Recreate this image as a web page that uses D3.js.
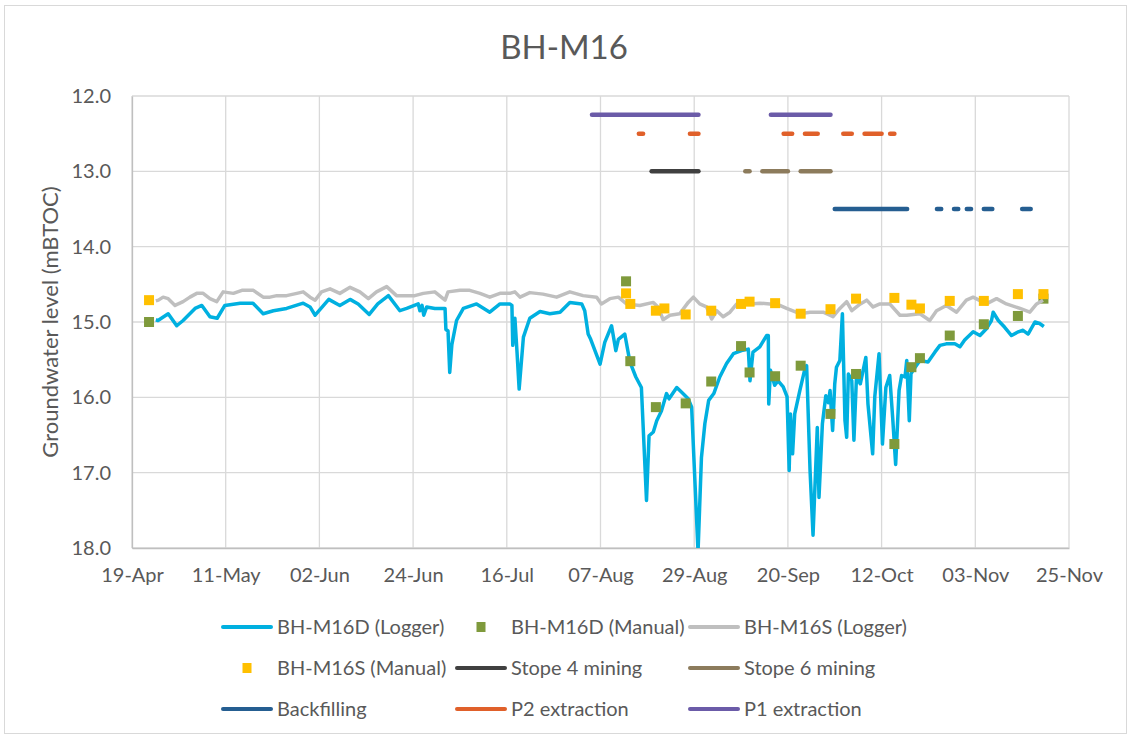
<!DOCTYPE html>
<html lang="en">
<head>
<meta charset="UTF-8" />
<title>BH-M16</title>
<script src="https://d3js.org/d3.v7.min.js"></script>
<style>
  body { margin: 0; background: #fff; }
  text { font-family: Lato, "Open Sans", sans-serif; fill: #595959; }
</style>
</head>
<body>
<svg id="chart" width="1131" height="738"></svg>
<script>
// logger readings: days after 19-Apr, level in mBTOC
const deepDay = [5.6, 6.1, 8.5, 10.5, 12.0, 14.8, 16.4, 18.3, 20.0, 21.8, 25.4, 28.4, 30.8, 33.2, 36.3, 40.2, 41.8, 43.0, 46.2,
  48.8, 51.2, 53.1, 55.7, 57.7, 60.2, 62.9, 64.5, 67.2, 67.6, 68.1, 68.5, 69.2, 71.1, 73.5, 73.7, 74.2, 74.6, 75.1, 76.2,
  77.8, 80.9, 84.0, 86.4, 88.7, 89.2, 89.4, 89.9, 90.4, 90.9, 91.9, 93.4, 95.8, 98.1, 100.5, 102.8, 105.6, 106.3, 107.1,
  107.7, 108.7, 109.9, 111.0, 112.6, 113.6, 114.2, 115.7, 116.9, 118.3, 119.6, 120.8, 121.4, 122.4, 123.2, 124.3, 125.5,
  126.1, 127.9, 129.0, 130.6, 131.4, 132.9, 133.7, 134.5, 135.4, 136.6, 138.0, 139.6, 141.2, 143.1, 144.7, 145.1, 145.8,
  147.4, 149.0, 149.4, 149.5, 149.9, 150.9, 151.7, 152.9, 153.8, 154.3, 154.6, 155.1, 155.6, 156.8, 158.0, 158.4, 159.2,
  159.9, 160.9, 161.3, 162.1, 162.9, 163.5, 163.9, 164.5, 165.0, 165.4, 166.2, 166.8, 167.4, 167.8, 168.2, 169.0, 169.5,
  170.1, 171.0, 172.3, 172.8, 173.9, 174.4, 175.4, 176.2, 177.0, 177.9, 178.6, 179.3, 180.1, 180.7, 181.5, 181.9, 182.5,
  182.9, 183.4, 185.0, 186.9, 188.5, 189.7, 191.2, 193.2, 194.4, 195.5, 197.5, 199.1, 200.6, 201.8, 202.2, 203.4, 204.9,
  206.5, 208.1, 209.2, 210.4, 212.0, 213.1, 214.1];
const deepLevel = [14.97, 14.98, 14.89, 15.05, 14.98, 14.82, 14.78, 14.93, 14.95, 14.78, 14.75, 14.75, 14.89, 14.85, 14.82, 14.75, 14.80, 14.91, 14.70,
  14.78, 14.70, 14.76, 14.90, 14.76, 14.65, 14.85, 14.82, 14.76, 14.85, 14.78, 14.91, 14.80, 14.82, 14.82, 15.10, 15.12, 15.67, 15.30, 14.98,
  14.82, 14.76, 14.87, 14.76, 14.76, 14.78, 15.31, 14.95, 15.40, 15.89, 15.20, 14.95, 14.86, 14.89, 14.87, 14.74, 14.76, 14.85, 15.16,
  15.23, 15.38, 15.56, 15.27, 15.05, 15.38, 15.23, 15.16, 15.53, 15.73, 15.87, 17.37, 16.51, 16.46, 16.31, 16.18, 15.95,
  16.02, 15.87, 15.93, 16.02, 16.13, 18.05, 16.80, 16.35, 16.04, 15.95, 15.73, 15.55, 15.42, 15.38, 15.36, 15.78, 15.40,
  15.33, 15.18, 15.18, 16.09, 15.64, 15.84, 15.78, 15.86, 15.99, 16.97, 16.22, 16.75, 16.22, 15.91, 15.62, 15.58, 16.97,
  17.83, 16.40, 17.33, 16.35, 15.98, 16.07, 15.91, 16.44, 15.82, 15.60, 15.51, 14.89, 16.31, 16.53, 15.69, 15.78, 16.57,
  15.73, 15.82, 15.47, 16.09, 16.75, 15.99, 15.42, 16.62, 15.87, 15.71, 16.27, 16.89, 15.91, 15.71, 15.73, 15.51, 16.31,
  15.69, 15.64, 15.51, 15.53, 15.40, 15.31, 15.29, 15.29, 15.33, 15.24, 15.13, 15.18, 15.09, 14.98, 14.87, 14.98, 15.07,
  15.18, 15.13, 15.11, 15.16, 15.00, 15.02, 15.06];

const shallowDay = [5.6, 6.2, 7.3, 8.5, 10.1, 12.0, 13.6, 15.2, 16.7, 18.3, 19.9, 21.4, 23.8, 25.8, 28.5, 30.8, 32.4, 34.0, 36.3,
  38.7, 40.2, 41.8, 43.0, 44.5, 46.5, 48.8, 51.2, 53.5, 55.5, 57.4, 59.8, 62.1, 64.1, 66.4, 68.4, 71.1, 73.5, 74.2, 77.0,
  79.3, 81.7, 84.0, 86.4, 88.7, 89.9, 91.1, 93.4, 96.5, 99.7, 102.8, 105.9, 109.1, 110.2, 112.2, 114.2, 116.1, 119.2, 122.4,
  123.5, 124.7, 126.3, 128.6, 130.6, 131.8, 133.3, 134.9, 136.1, 137.3, 138.8, 140.4, 142.0, 145.1, 147.4, 149.8, 152.1,
  153.7, 156.8, 159.2, 162.3, 164.6, 166.2, 167.8, 169.0, 171.0, 172.5, 174.0, 175.6, 177.9, 180.3, 181.9, 185.0, 187.3,
  188.9, 191.2, 193.6, 195.9, 197.5, 200.6, 203.0, 205.3, 208.5, 210.8, 212.4, 213.9];
const shallowLevel = [14.72, 14.71, 14.67, 14.69, 14.78, 14.73, 14.67, 14.62, 14.62, 14.69, 14.73, 14.60, 14.62, 14.58, 14.58, 14.67, 14.67, 14.65, 14.65,
  14.62, 14.60, 14.67, 14.71, 14.60, 14.56, 14.62, 14.54, 14.60, 14.69, 14.60, 14.53, 14.65, 14.65, 14.65, 14.62, 14.60, 14.71, 14.60, 14.58,
  14.58, 14.62, 14.67, 14.62, 14.62, 14.60, 14.67, 14.61, 14.63, 14.67, 14.60, 14.65, 14.67, 14.76, 14.69, 14.67, 14.76, 14.78, 14.74,
  14.80, 14.97, 14.91, 14.89, 14.74, 14.67, 14.76, 14.80, 14.96, 14.85, 14.93, 14.87, 14.76, 14.76, 14.75, 14.76, 14.78,
  14.82, 14.89, 14.87, 14.87, 14.93, 14.82, 14.73, 14.85, 14.76, 14.71, 14.80, 14.76, 14.76, 14.91, 14.91, 14.89, 14.98,
  14.85, 14.78, 14.87, 14.71, 14.67, 14.76, 14.69, 14.76, 14.82, 14.87, 14.76, 14.71];

// manual dips
const manualDates = ["04-23", "08-13", "08-14", "08-20", "08-22", "08-27", "09-02", "09-09", "09-11", "09-17", "09-23",
  "09-30", "10-06", "10-15", "10-19", "10-21", "10-28", "11-05", "11-13", "11-19"];
const deepManual = [15.00, 14.46, 15.52, 16.13, null, 16.08, 15.79, 15.32, 15.67, 15.72, 15.58,
  16.22, 15.69, 16.62, 15.60, 15.48, 15.18, 15.03, 14.92, 14.69];
const shallowManual = [14.71, 14.62, 14.76, 14.85, 14.82, 14.90, 14.85, 14.76, 14.73, 14.75, 14.89,
  14.83, 14.69, 14.68, 14.77, 14.82, 14.72, 14.72, 14.63, 14.63];

// activity periods [from, to], drawn at a fixed level
const stope4 = [["08-19", "08-30"]];
const stope6 = [["09-10", "09-11"], ["09-14", "09-20"], ["09-23", "09-30"]];
const backfilling = [["10-01", "10-18"], ["10-25", "10-26"], ["10-29", "10-30"], ["11-01", "11-02"], ["11-05", "11-07"], ["11-14", "11-16"]];
const p2 = [["08-16", "08-17"], ["08-28", "08-30"], ["09-19", "09-21"], ["09-24", "09-27"], ["10-03", "10-05"], ["10-08", "10-12"], ["10-14", "10-15"]];
const p1 = [["08-05", "08-30"], ["09-16", "09-30"]];
const activityLevel = { stope4: 13.0, stope6: 13.0, backfilling: 13.5, p2: 12.5, p1: 12.25 };

const yTicks = [12, 13, 14, 15, 16, 17, 18];

const YEAR = 2021;
const start = new Date(Date.UTC(YEAR, 3, 19));
const end = new Date(Date.UTC(YEAR, 10, 25));
const parse = d3.utcParse("%Y-%m-%d");
const toDate = (s) => parse(YEAR + "-" + s);
const dayToDate = (d) => new Date(start.getTime() + d * 864e5);

const svg = d3.select("#chart");
const W = +svg.attr("width"), H = +svg.attr("height");
const plot = { left: 132, right: 1069, top: 96, bottom: 548 };

svg.append("rect").attr("x", 4.5).attr("y", 5.5).attr("width", W - 9).attr("height", H - 10)
  .attr("fill", "#fff").attr("stroke", "#d9d9d9");

const x = d3.scaleUtc().domain([start, end]).range([plot.left, plot.right]);
const y = d3.scaleLinear().domain([12, 18]).range([plot.top, plot.bottom]);

const xTicks = d3.utcDay.range(start, new Date(end.getTime() + 1), 22);

// grid
const grid = svg.append("g");
grid.selectAll("line.h").data(yTicks).join("line")
  .attr("x1", plot.left).attr("x2", plot.right)
  .attr("y1", (d) => y(d)).attr("y2", (d) => y(d))
  .attr("stroke", "#d9d9d9").attr("stroke-width", 1.3);
grid.selectAll("line.v").data(xTicks).join("line")
  .attr("y1", plot.top).attr("y2", plot.bottom)
  .attr("x1", (d) => x(d)).attr("x2", (d) => x(d))
  .attr("stroke", "#d9d9d9").attr("stroke-width", 1.3);

// axes
const xAxis = svg.append("g").attr("transform", `translate(0,${plot.bottom})`)
  .call(d3.axisBottom(x).tickValues(xTicks).tickFormat(d3.utcFormat("%d-%b")).tickSize(0).tickPadding(20));
const yAxis = svg.append("g").attr("transform", `translate(${plot.left},0)`)
  .call(d3.axisLeft(y).tickValues(yTicks).tickFormat(d3.format(".1f")).tickSize(0).tickPadding(21));
[xAxis, yAxis].forEach((a) => {
  a.select(".domain").attr("stroke", "#bfbfbf").attr("stroke-width", 1.3);
  a.selectAll("text").style("font-size", "20px").attr("fill", "#595959");
});

svg.append("text").attr("x", 564).attr("y", 59).attr("text-anchor", "middle")
  .style("font-size", "33px").text("BH-M16");
svg.append("text").attr("transform", `translate(58,${(plot.top + plot.bottom) / 2}) rotate(-90)`)
  .attr("text-anchor", "middle").style("font-size", "22px").text("Groundwater level (mBTOC)");

svg.append("clipPath").attr("id", "clip").append("rect")
  .attr("x", plot.left).attr("y", plot.top - 10)
  .attr("width", plot.right - plot.left).attr("height", plot.bottom - plot.top + 10);
const g = svg.append("g").attr("clip-path", "url(#clip)");

const line = d3.line().x((d) => x(d[0])).y((d) => y(d[1]));
const loggerPoints = (days, levels) => days.map((d, i) => [dayToDate(d), levels[i]]);

const colors = {
  deepLogger: "#00b0e0", deepManual: "#7f9a3c", shallowLogger: "#bfbfbf", shallowManual: "#ffc000",
  stope4: "#404040", stope6: "#8c7b5c", backfilling: "#255e91", p2: "#e0602a", p1: "#6b5ba8"
};

g.append("path").datum(loggerPoints(deepDay, deepLevel)).attr("d", line)
  .attr("fill", "none").attr("stroke", colors.deepLogger).attr("stroke-width", 3.5).attr("stroke-linejoin", "round");

const sq = 10;
g.selectAll("rect.deep").data(manualDates.map((d, i) => [toDate(d), deepManual[i]]).filter((d) => d[1] != null))
  .join("rect").attr("x", (d) => x(d[0]) - sq / 2).attr("y", (d) => y(d[1]) - sq / 2)
  .attr("width", sq).attr("height", sq).attr("fill", colors.deepManual);

g.append("path").datum(loggerPoints(shallowDay, shallowLevel)).attr("d", line)
  .attr("fill", "none").attr("stroke", colors.shallowLogger).attr("stroke-width", 3.5).attr("stroke-linejoin", "round");

g.selectAll("rect.shallow").data(manualDates.map((d, i) => [toDate(d), shallowManual[i]]))
  .join("rect").attr("x", (d) => x(d[0]) - sq / 2).attr("y", (d) => y(d[1]) - sq / 2)
  .attr("width", sq).attr("height", sq).attr("fill", colors.shallowManual);

const activities = [["stope4", stope4], ["stope6", stope6], ["backfilling", backfilling], ["p2", p2], ["p1", p1]];
activities.forEach(([key, periods]) => {
  g.selectAll("line." + key).data(periods).join("line")
    .attr("x1", (d) => x(toDate(d[0]))).attr("x2", (d) => x(toDate(d[1])))
    .attr("y1", y(activityLevel[key])).attr("y2", y(activityLevel[key]))
    .attr("stroke", colors[key]).attr("stroke-width", 4.5).attr("stroke-linecap", "round");
});

// legend
const legendItems = [
  ["BH-M16D (Logger)", "deepLogger", "line"], ["BH-M16D (Manual)", "deepManual", "marker"], ["BH-M16S (Logger)", "shallowLogger", "line"],
  ["BH-M16S (Manual)", "shallowManual", "marker"], ["Stope 4 mining", "stope4", "line"], ["Stope 6 mining", "stope6", "line"],
  ["Backfilling", "backfilling", "line"], ["P2 extraction", "p2", "line"], ["P1 extraction", "p1", "line"]
];
const colX = [222, 456, 689], rowY = [627, 668, 709];
const legend = svg.append("g");
legendItems.forEach(([label, key, type], i) => {
  const lx = colX[i % 3], ly = rowY[Math.floor(i / 3)];
  if (type === "line") {
    legend.append("line").attr("x1", lx + 1).attr("x2", lx + 49).attr("y1", ly).attr("y2", ly)
      .attr("stroke", colors[key]).attr("stroke-width", 4)
      .attr("stroke-linecap", "round");
  } else {
    legend.append("rect").attr("x", lx + 25 - 4.5).attr("y", ly - 5).attr("width", 9).attr("height", 10)
      .attr("fill", colors[key]);
  }
  legend.append("text").attr("x", lx + 55).attr("y", ly).attr("dy", "0.35em")
    .style("font-size", "20px").text(label);
});
</script>
</body>
</html>
